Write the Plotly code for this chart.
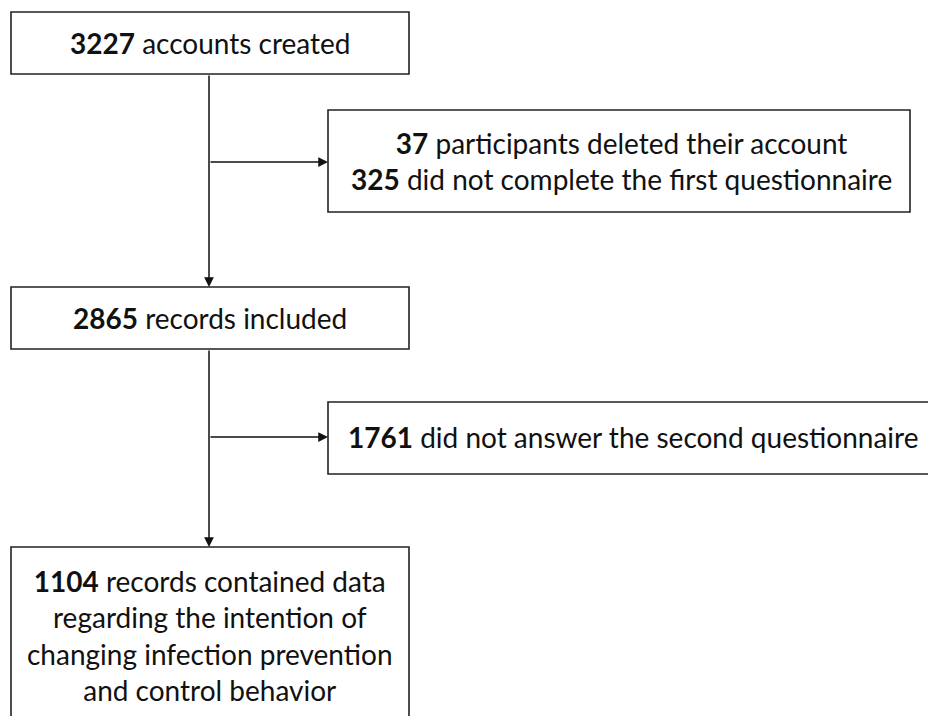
import plotly.graph_objects as go

# Flowchart content
counts = [3227, 37, 325, 2865, 1761, 1104]
node_texts = [
    "<b>3227</b> accounts created",
    "<b>37</b> participants deleted their account<br><b>325</b> did not complete the first questionnaire",
    "<b>2865</b> records included",
    "<b>1761</b> did not answer the second questionnaire",
    "<b>1104</b> records contained data<br>regarding the intention of<br>changing infection prevention<br>and control behavior",
]

# Layout (page pixel coordinates): x0, y0, x1, y1
boxes = [
    (11, 12, 409, 74),
    (328, 110, 910, 212),
    (11, 287, 409, 349),
    (328, 402, 960, 474),
    (11, 547, 409, 740),
]
text_pos = [(210, 43), (621, 161), (210, 318), (633, 437), (210, 635)]

W, H = 944, 716
OFF = 8  # page body margin
FONT = "Lato, 'Open Sans', sans-serif"

fig = go.Figure()
fig.add_trace(go.Scatter(x=[OFF, W + OFF], y=[OFF, H + OFF], mode="markers", marker=dict(opacity=0),
                         hoverinfo="skip", showlegend=False))

for (x0, y0, x1, y1) in boxes:
    fig.add_shape(type="rect", x0=x0, y0=y0, x1=x1, y1=y1,
                  line=dict(color="#222222", width=1.6), fillcolor="white", layer="below")

for t, (tx, ty) in zip(node_texts, text_pos):
    fig.add_annotation(x=tx, y=ty, text=t, showarrow=False, xanchor="center", yanchor="middle",
                       font=dict(family=FONT, size=28, color="#111111"), align="center")

def arrow(x0, y0, x1, y1):
    fig.add_annotation(x=x1, y=y1, ax=x0, ay=y0, xref="x", yref="y", axref="x", ayref="y",
                       text="", showarrow=True, arrowhead=2, arrowsize=1.3, arrowwidth=1.5,
                       arrowcolor="#111111", standoff=0)

arrow(209, 74, 209, 287)
arrow(209, 162, 328, 162)
arrow(209, 349, 209, 547)
arrow(209, 437, 328, 437)

fig.update_layout(
    width=W, height=H, margin=dict(l=0, r=0, t=0, b=0),
    paper_bgcolor="white", plot_bgcolor="white",
    xaxis=dict(range=[OFF, W + OFF], visible=False, fixedrange=True),
    yaxis=dict(range=[H + OFF, OFF], visible=False, fixedrange=True),
)
fig.write_html("out.html")
